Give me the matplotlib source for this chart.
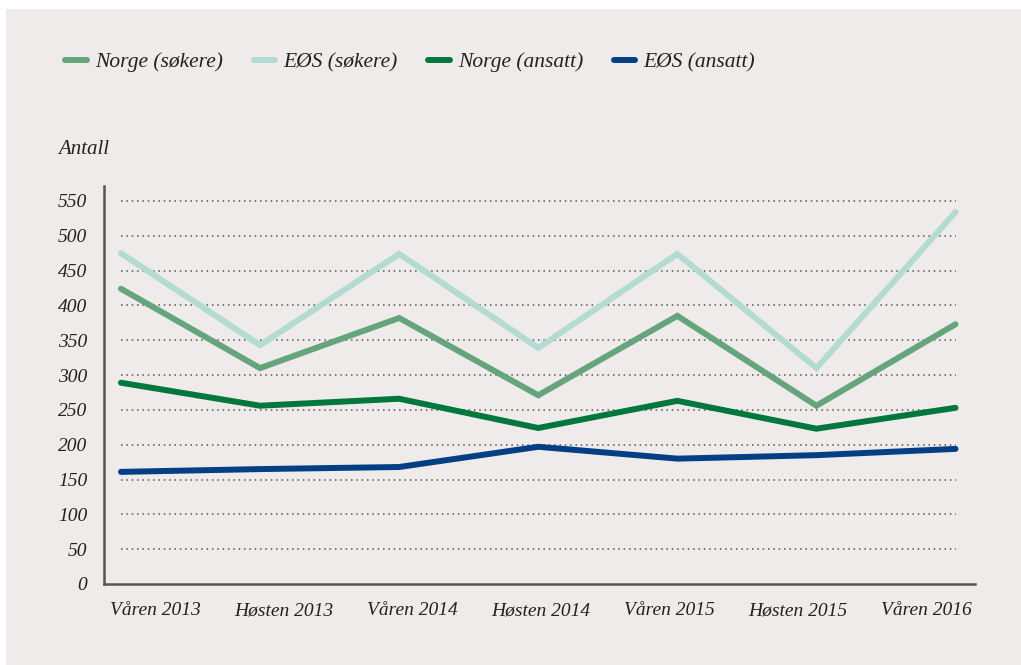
import matplotlib
matplotlib.use('Agg')
import matplotlib.pyplot as plt
from matplotlib.patches import Rectangle

# categories and series
perioder = ["Våren 2013", "Høsten 2013", "Våren 2014", "Høsten 2014",
            "Våren 2015", "Høsten 2015", "Våren 2016"]
norge_sokere = [424, 310, 382, 271, 385, 256, 373]
eos_sokere = [475, 343, 474, 339, 474, 310, 534]
norge_ansatt = [289, 256, 266, 224, 263, 223, 253]
eos_ansatt = [161, 165, 168, 197, 180, 185, 194]
y_ticks = list(range(0, 551, 50))

serier = [
    ("Norge (søkere)", norge_sokere, "#66a57c"),
    ("EØS (søkere)", eos_sokere, "#b3dbd3"),
    ("Norge (ansatt)", norge_ansatt, "#00773d"),
    ("EØS (ansatt)", eos_ansatt, "#043f86"),
]

bg = "#eeebea"
font = dict(family="Liberation Serif", style="italic")

fig = plt.figure(figsize=(10.21, 6.65), dpi=100, facecolor="white")
fig.patches.append(Rectangle((6 / 1021, 0), 1, 1 - 9 / 665, transform=fig.transFigure,
                             facecolor=bg, edgecolor="none", zorder=-10))

ax = fig.add_axes([104 / 1021, 1 - 584 / 665, (975 - 104) / 1021, (584 - 186) / 665])
ax.set_facecolor(bg)

x = list(range(len(perioder)))

# dotted guide lines only span the data range
ax.hlines(y_ticks[1:], 0, len(perioder) - 1, colors="#555555", linestyles=(0, (1, 2.5)),
          linewidth=1.1, zorder=1)

for navn, verdier, farge in serier:
    ax.plot(x, verdier, color=farge, linewidth=4.3, solid_capstyle="round",
            solid_joinstyle="miter", label=navn, zorder=3)

ax.set_xlim(-0.122, 6.14)
ax.set_ylim(0, 571.5)
# in the original the category labels sit a bit right of the points, spaced tighter
ax.set_xticks([0.245 + 0.9245 * i for i in x])
ax.set_xticklabels(perioder, fontsize=14, **font)
ax.set_yticks(y_ticks)
ax.set_yticklabels([str(v) for v in y_ticks], fontsize=14, ha="right", **font)
ax.tick_params(length=0, colors="#222222")
ax.tick_params(axis="y", pad=12)
ax.tick_params(axis="x", pad=13)

for side in ["top", "right"]:
    ax.spines[side].set_visible(False)
for side in ["left", "bottom"]:
    ax.spines[side].set_color("#555555")
    ax.spines[side].set_linewidth(1.8)

fig.text(58 / 1021, 1 - 149 / 665, "Antall", fontsize=15, va="center", ha="left",
         color="#222222", **font)

leg = fig.legend(loc="center left", bbox_to_anchor=(46 / 1021, 1 - 62 / 665), ncol=4,
                 frameon=False, handlelength=1.0, handletextpad=0.4, columnspacing=1.4,
                 prop=dict(family="Liberation Serif", style="italic", size=15.5))
for t in leg.get_texts():
    t.set_color("#222222")

fig.savefig("out.png", dpi=100, facecolor="white")
